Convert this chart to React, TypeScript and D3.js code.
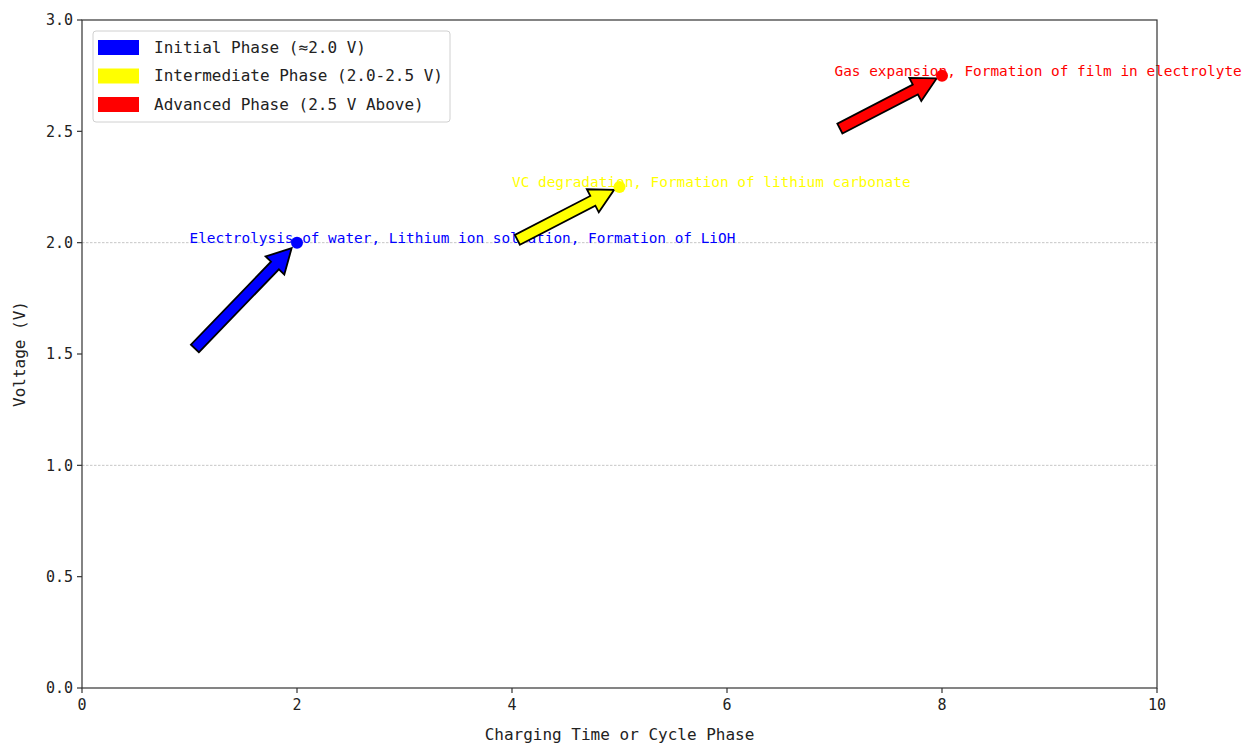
import * as d3 from 'd3';

// Phase data
const phaseNames = ['Initial Phase (≈2.0 V)', 'Intermediate Phase (2.0-2.5 V)', 'Advanced Phase (2.5 V Above)'];
const phaseColors = ['#0000ff', '#ffff00', '#ff0000'];
const pointX = [2, 5, 8];
const pointY = [2.0, 2.25, 2.75];
const tailX = [1, 4, 7];
const tailY = [1.5, 2.0, 2.5];
const noteText = [
    'Electrolysis of water, Lithium ion solvation, Formation of LiOH',
    'VC degradation, Formation of lithium carbonate',
    'Gas expansion, Formation of film in electrolyte'
];
const refLines = [1.0, 2.0];
const xTicks = [0, 2, 4, 6, 8, 10];
const yTicks = [0, 0.5, 1.0, 1.5, 2.0, 2.5, 3.0];

const W = 1242;
const H = 745;
const margin = { top: 20, right: 85, bottom: 57, left: 82 };
const FONT = '"DejaVu Sans Mono", "Liberation Mono", monospace';

function arrowPath(x1: number, y1: number, x2: number, y2: number) {
    // shrink 5% on each end, like matplotlib's shrink=0.05
    const dx = x2 - x1, dy = y2 - y1;
    const len = Math.hypot(dx, dy);
    const ux = dx / len, uy = dy / len;
    const s = len * 0.05;
    const tx = x1 + ux * s, ty = y1 + uy * s;
    const hx = x2 - ux * s, hy = y2 - uy * s;
    const nx = -uy, ny = ux;
    const w = 5.5, hw = 13, hl = 24;
    const bx = hx - ux * hl, by = hy - uy * hl;
    const pts: [number, number][] = [
        [tx + nx * w, ty + ny * w],
        [bx + nx * w, by + ny * w],
        [bx + nx * hw, by + ny * hw],
        [hx, hy],
        [bx - nx * hw, by - ny * hw],
        [bx - nx * w, by - ny * w],
        [tx - nx * w, ty - ny * w]
    ];
    return d3.line()(pts) + 'Z';
}

export default function App() {
    const x = d3.scaleLinear().domain([0, 10]).range([margin.left, W - margin.right]);
    const y = d3.scaleLinear().domain([0, 3]).range([H - margin.bottom, margin.top]);
    const x0 = x(0), x1 = x(10), y0 = y(0), y1 = y(3);

    return (
        <div style={{ position: 'fixed', left: 0, top: 0, background: '#fff' }}>
            <svg width={W} height={H} style={{ display: 'block', fontFamily: FONT }}>
                <rect width={W} height={H} fill="#fff" />

                {/* reference lines */}
                {refLines.map(v => (
                    <line key={v} x1={x0} x2={x1} y1={y(v)} y2={y(v)}
                        stroke="#b8b8b8" strokeWidth={0.8} strokeDasharray="2.5,1.5" />
                ))}

                {/* annotation text (under arrows) */}
                {noteText.map((t, i) => (
                    <text key={t} x={x(tailX[i])} y={y(pointY[i])} fill={phaseColors[i]}
                        fontSize={14.4}>{t}</text>
                ))}

                {/* arrows */}
                {pointX.map((px, i) => (
                    <path key={'a' + i}
                        d={arrowPath(x(tailX[i]), y(tailY[i]), x(px), y(pointY[i]))}
                        fill={phaseColors[i]} stroke="#000" strokeWidth={1.8} strokeLinejoin="miter" />
                ))}

                {/* points */}
                {pointX.map((px, i) => (
                    <circle key={'p' + i} cx={x(px)} cy={y(pointY[i])} r={6} fill={phaseColors[i]} />
                ))}

                {/* frame */}
                <rect x={x0} y={y1} width={x1 - x0} height={y0 - y1} fill="none" stroke="#333" strokeWidth={1.2} />

                {/* x axis */}
                {xTicks.map(t => (
                    <g key={'x' + t}>
                        <line x1={x(t)} x2={x(t)} y1={y0} y2={y0 + 5} stroke="#333" strokeWidth={1.2} />
                        <text x={x(t)} y={y0 + 22} textAnchor="middle" fontSize={15} fill="#222">{t}</text>
                    </g>
                ))}
                <text x={(x0 + x1) / 2} y={H - 5} textAnchor="middle" fontSize={16} fill="#222">
                    Charging Time or Cycle Phase
                </text>

                {/* y axis */}
                {yTicks.map(t => (
                    <g key={'y' + t}>
                        <line x1={x0 - 5} x2={x0} y1={y(t)} y2={y(t)} stroke="#333" strokeWidth={1.2} />
                        <text x={x0 - 9} y={y(t)} dy="0.35em" textAnchor="end" fontSize={15} fill="#222">
                            {d3.format('.1f')(t)}
                        </text>
                    </g>
                ))}
                <text transform={`translate(25,${(y0 + y1) / 2}) rotate(-90)`} textAnchor="middle"
                    fontSize={16} fill="#222">Voltage (V)</text>

                {/* legend */}
                <g transform="translate(93,31)">
                    <rect width={357} height={91} rx={3} fill="#fff" fillOpacity={0.85} stroke="#d0d0d0" strokeWidth={1} />
                    {phaseNames.map((n, i) => (
                        <g key={n} transform={`translate(0,${16 + i * 28.5})`}>
                            <rect x={5} y={-7} width={41} height={15} fill={phaseColors[i]} />
                            <text x={61} y={0} dy="0.35em" fontSize={16} fill="#222">{n}</text>
                        </g>
                    ))}
                </g>
            </svg>
        </div>
    );
}
